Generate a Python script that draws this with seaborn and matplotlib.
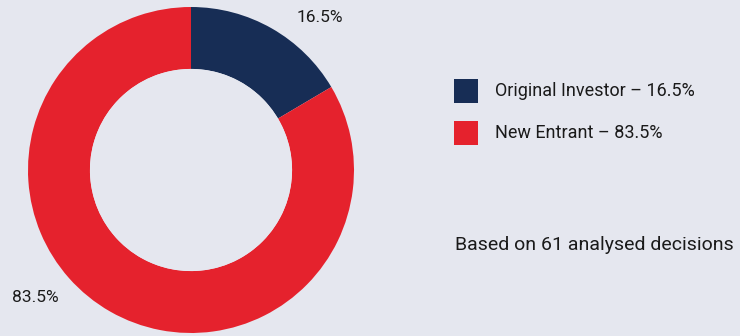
import matplotlib
matplotlib.use("Agg")
import matplotlib.pyplot as plt
import seaborn as sns
from matplotlib.patches import Rectangle, Circle

categories = ["Original Investor", "New Entrant"]
shares = [16.5, 83.5]
colors = ["#172d55", "#e5222d"]
note = "Based on 61 analysed decisions"

sns.set_theme(style="white")
plt.rcParams["font.family"] = ["Roboto", "DejaVu Sans"]

bg = "#e5e7ef"
fig = plt.figure(figsize=(7.4, 3.36), dpi=100, facecolor=bg)

# donut
ax = fig.add_axes([28 / 740, 3 / 336, 326 / 740, 326 / 336])
ax.set_facecolor(bg)
ax.pie(shares, colors=colors, startangle=90, counterclock=False,
       radius=1.0, wedgeprops=dict(width=0.38, linewidth=0))
ax.add_patch(Circle((0, 0), 0.62, facecolor=bg, edgecolor="none"))
ax.set_xlim(-1, 1)
ax.set_ylim(-1, 1)
ax.set_aspect("equal")
ax.axis("off")

txt = "#1a1a1a"
# outside percentage labels
fig.text(320 / 740, 1 - 18 / 336, f"{shares[0]:.1f}%", ha="center", va="center",
         fontsize=12.5, color=txt)
fig.text(35 / 740, 1 - 297 / 336, f"{shares[1]:.1f}%", ha="center", va="center",
         fontsize=12.5, color=txt)

# legend
for i, (cat, val, col) in enumerate(zip(categories, shares, colors)):
    yc = 91 + 42 * i
    fig.patches.append(Rectangle((454 / 740, 1 - (yc + 12) / 336), 24 / 740, 24 / 336,
                                 transform=fig.transFigure, facecolor=col,
                                 edgecolor="none"))
    fig.text(495 / 740, 1 - yc / 336, f"{cat} \u2013 {val:.1f}%", ha="left",
             va="center", fontsize=13, color=txt)

fig.text(455 / 740, 1 - 245 / 336, note, ha="left", va="center",
         fontsize=14, color=txt)

fig.savefig("out.png", dpi=100, facecolor=bg)
